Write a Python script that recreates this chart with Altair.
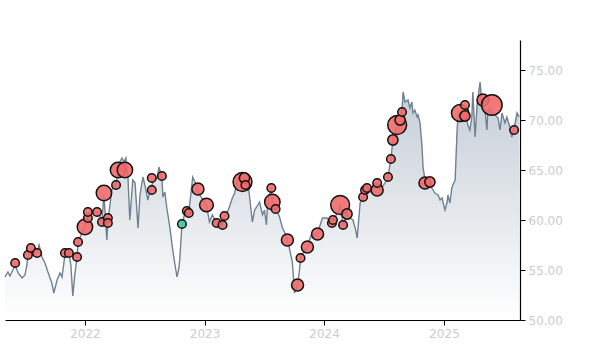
import altair as alt
import pandas as pd

# ---- price line ----
line_dates = [
    "2021-05-02","2021-05-11","2021-05-17","2021-05-26","2021-06-02","2021-06-11","2021-06-23",
    "2021-07-02","2021-07-08","2021-07-11","2021-07-20","2021-07-29","2021-08-08","2021-08-14",
    "2021-08-23","2021-09-01","2021-09-10","2021-09-22","2021-09-28","2021-10-08","2021-10-17",
    "2021-10-23","2021-11-01","2021-11-13","2021-11-19","2021-11-25","2021-12-01","2021-12-08",
    "2021-12-11","2021-12-20","2022-01-01","2022-01-10","2022-01-22","2022-02-07","2022-02-22",
    "2022-02-28","2022-03-09","2022-03-12","2022-03-24","2022-04-06","2022-04-12","2022-04-18",
    "2022-04-24","2022-04-30","2022-05-06","2022-05-12","2022-05-18","2022-05-27","2022-06-03",
    "2022-06-12","2022-06-18","2022-06-27","2022-07-03","2022-07-12","2022-07-18","2022-07-24",
    "2022-08-02","2022-08-09","2022-08-15","2022-08-24","2022-08-27","2022-09-02","2022-09-08",
    "2022-09-17","2022-09-26","2022-10-03","2022-10-09","2022-10-15","2022-10-18","2022-10-24",
    "2022-11-02","2022-11-08","2022-11-14","2022-11-20","2022-11-26","2022-12-03","2022-12-12",
    "2022-12-18","2022-12-27","2023-01-07","2023-01-16","2023-01-25","2023-02-07","2023-02-16",
    "2023-02-25","2023-03-03","2023-03-12","2023-03-18","2023-03-27","2023-04-03","2023-04-12",
    "2023-04-18","2023-04-24","2023-05-03","2023-05-12","2023-05-18","2023-05-27","2023-06-03",
    "2023-06-09","2023-06-18","2023-06-27","2023-07-03","2023-07-09","2023-07-12","2023-07-18",
    "2023-07-24","2023-07-27","2023-08-06","2023-08-12","2023-08-18","2023-08-27","2023-09-02",
    "2023-09-11","2023-09-17","2023-09-26","2023-10-03","2023-10-12","2023-10-18","2023-10-21",
    "2023-10-30","2023-11-11","2023-11-17","2023-11-26","2023-12-05","2023-12-12","2023-12-18",
    "2023-12-27","2024-01-10","2024-01-19","2024-01-28","2024-02-04","2024-02-10","2024-02-19",
    "2024-02-28","2024-03-05","2024-03-11","2024-03-20","2024-03-29","2024-04-05","2024-04-11",
    "2024-04-20","2024-04-29","2024-05-05","2024-05-11","2024-05-20","2024-05-29","2024-06-05",
    "2024-06-11","2024-06-20","2024-06-26","2024-07-05","2024-07-14","2024-07-23","2024-07-29",
    "2024-08-05","2024-08-11","2024-08-20","2024-08-26","2024-08-29","2024-09-04","2024-09-13",
    "2024-09-19","2024-09-25","2024-09-28","2024-10-04","2024-10-11","2024-10-14","2024-10-20",
    "2024-10-26","2024-10-29","2024-11-04","2024-11-13","2024-11-19","2024-11-25","2024-12-04",
    "2024-12-14","2024-12-20","2024-12-26","2025-01-04","2025-01-10","2025-01-13","2025-01-19",
    "2025-01-25","2025-01-28","2025-02-04","2025-02-10","2025-02-13","2025-02-19","2025-02-28",
    "2025-03-06","2025-03-15","2025-03-21","2025-03-27","2025-03-30","2025-04-06","2025-04-12",
    "2025-04-21","2025-04-27","2025-05-06","2025-05-12","2025-05-15","2025-05-21","2025-05-27",
    "2025-06-06","2025-06-15","2025-06-21","2025-06-27","2025-07-06","2025-07-12","2025-07-21",
    "2025-07-27","2025-08-03","2025-08-12","2025-08-18",
]
line_values = [
    54.3,54.8,54.4,55.0,55.5,54.7,54.2,
    54.5,55.5,56.5,57.0,56.8,56.8,57.5,
    56.3,55.7,54.8,53.7,52.7,54.0,54.7,
    54.3,56.5,56.7,55.5,52.4,54.5,56.3,
    57.8,58.5,59.3,60.5,61.0,60.8,60.0,
    62.5,58.0,59.8,63.0,63.7,64.8,65.8,
    66.2,65.8,66.2,64.5,60.0,64.0,63.7,
    59.2,62.5,64.3,63.5,62.0,62.8,63.5,
    64.0,64.2,65.3,64.2,62.3,62.8,61.2,
    59.3,57.0,55.5,54.3,55.2,56.3,59.5,
    60.7,61.0,60.8,62.5,64.3,63.8,63.1,
    62.5,62.0,61.5,59.8,60.5,59.7,60.0,
    59.5,60.4,60.8,61.3,62.2,62.7,64.0,
    64.4,64.2,64.4,64.0,62.5,59.8,61.0,
    61.3,61.8,60.5,61.0,59.5,61.3,62.5,
    63.2,62.0,61.1,60.8,60.3,59.2,58.8,
    58.0,57.2,55.8,52.7,53.5,55.0,56.2,
    56.8,57.3,58.0,58.7,58.4,58.6,59.3,
    60.2,60.2,59.8,60.0,60.3,60.7,61.5,
    59.5,60.0,60.6,60.2,60.0,59.2,58.2,
    61.7,62.3,63.0,63.2,62.8,63.3,63.7,
    63.4,63.0,63.3,63.7,64.3,66.1,68.0,
    68.8,69.5,70.2,71.0,72.8,71.8,72.0,
    71.2,71.8,70.7,71.0,70.3,70.5,69.7,
    67.3,65.3,64.0,63.5,63.8,63.2,62.7,
    62.5,62.0,62.2,61.0,61.7,62.5,61.7,
    63.2,63.5,64.0,69.0,70.5,70.7,71.0,
    70.8,69.5,69.0,70.3,72.8,68.3,71.5,
    73.8,71.7,71.0,69.0,71.0,71.2,70.8,
    70.5,70.2,69.0,70.7,69.7,70.3,69.3,
    68.3,69.2,70.7,70.3,
]

# ---- event markers ----
event_dates = [
    "2021-06-02","2021-07-11","2021-07-20","2021-08-08","2021-11-01","2021-11-13","2021-12-08",
    "2021-12-11","2022-01-01","2022-01-10","2022-01-10","2022-02-07","2022-02-22","2022-03-12",
    "2022-03-12","2022-02-28","2022-04-06","2022-04-12","2022-05-03","2022-07-24","2022-07-24",
    "2022-08-24","2022-10-24","2022-11-08","2022-11-14","2022-12-12","2023-01-07","2023-02-07",
    "2023-02-25","2023-03-03","2023-04-27","2023-05-03","2023-05-06","2023-07-24","2023-07-27",
    "2023-08-06","2023-09-11","2023-10-12","2023-10-21","2023-11-11","2023-12-12","2024-01-25",
    "2024-01-28","2024-02-19","2024-03-11","2024-02-28","2024-04-29","2024-05-05","2024-05-11",
    "2024-06-11","2024-06-11","2024-07-14","2024-07-23","2024-07-29","2024-08-11","2024-08-20",
    "2024-08-26","2024-11-04","2024-11-19","2025-02-19","2025-03-06","2025-03-06","2025-04-30",
    "2025-05-27","2025-08-03",
]
event_values = [
    55.7,56.5,57.2,56.7,56.7,56.7,56.3,
    57.8,59.3,60.2,60.8,60.8,59.8,60.2,
    59.7,62.7,63.5,65.0,65.0,64.2,63.0,
    64.4,59.6,60.9,60.7,63.1,61.5,59.7,
    59.5,60.4,63.8,64.2,63.5,63.2,61.8,
    61.1,58.0,53.5,56.2,57.3,58.6,59.7,
    60.0,61.5,60.6,59.5,62.3,63.0,63.2,
    63.0,63.7,64.3,66.1,68.0,69.5,70.0,
    70.8,63.7,63.8,70.7,70.4,71.5,72.0,
    71.5,69.0,
]
event_weight = [
    25,25,25,25,25,25,25,
    25,81,25,25,25,25,25,
    25,81,25,81,81,25,25,
    25,25,25,25,49,64,25,
    25,25,121,36,25,25,81,
    25,49,49,25,49,49,25,
    25,121,36,25,25,25,25,
    49,25,25,25,36,121,36,
    25,49,36,100,36,25,49,
    144,25,
]
event_kind = ["sell"] * len(event_dates)
event_kind[22] = "buy"

line_df = pd.DataFrame({"date": line_dates, "value": line_values})
ev_df = pd.DataFrame({"date": event_dates, "value": event_values,
                      "weight": event_weight, "kind": event_kind})

x_scale = alt.Scale(domain=["2021-05-02", "2025-08-21"])
y_scale = alt.Scale(domain=[50, 78], nice=False, zero=False)

x_enc = alt.X("date:T", scale=x_scale, title=None,
              axis=alt.Axis(format="%Y", tickCount={"interval": "year", "step": 1},
                            grid=False, domainColor="black", tickColor="black",
                            labelColor="#cccccc", labelFont="DejaVu Sans", labelFontSize=12,
                            tickSize=5, labelPadding=3, domainWidth=1.2))
y_enc = alt.Y("value:Q", scale=y_scale, title=None,
              axis=alt.Axis(orient="right", format=".2f", values=[50, 55, 60, 65, 70, 75],
                            grid=False, domainColor="black", tickColor="black",
                            labelColor="#cccccc", labelFont="DejaVu Sans", labelFontSize=12,
                            tickSize=5, labelPadding=3, domainWidth=1.2))

area = alt.Chart(line_df).mark_area(
    color=alt.Gradient(gradient="linear", x1=0, x2=0, y1=0, y2=1,
                       stops=[alt.GradientStop(color="#c4ccd5", offset=0),
                              alt.GradientStop(color="#ffffff", offset=1)]),
    interpolate="linear",
).encode(x=x_enc, y=y_enc, y2=alt.datum(50))

line = alt.Chart(line_df).mark_line(color="#708090", strokeWidth=1.4).encode(
    x="date:T", y="value:Q")

points = alt.Chart(ev_df).mark_circle(stroke="#111111", strokeWidth=1.5, opacity=1,
                                      fillOpacity=0.9).encode(
    x="date:T", y="value:Q",
    size=alt.Size("weight:Q", scale=alt.Scale(domain=[0, 150], range=[0, 440]), legend=None),
    color=alt.Color("kind:N", scale=alt.Scale(domain=["sell", "buy"],
                                              range=["#ee6a6a", "#40c9a2"]), legend=None),
)

chart = alt.layer(area, line, points).properties(
    width=515, height=280,
    background="white",
    autosize=alt.AutoSizeParams(type="none"),
    padding={"left": 5, "top": 40, "right": 80, "bottom": 30},
).configure_view(strokeWidth=0, stroke="transparent")

chart.save("out.html", embed_options={"renderer": "svg", "actions": False})
